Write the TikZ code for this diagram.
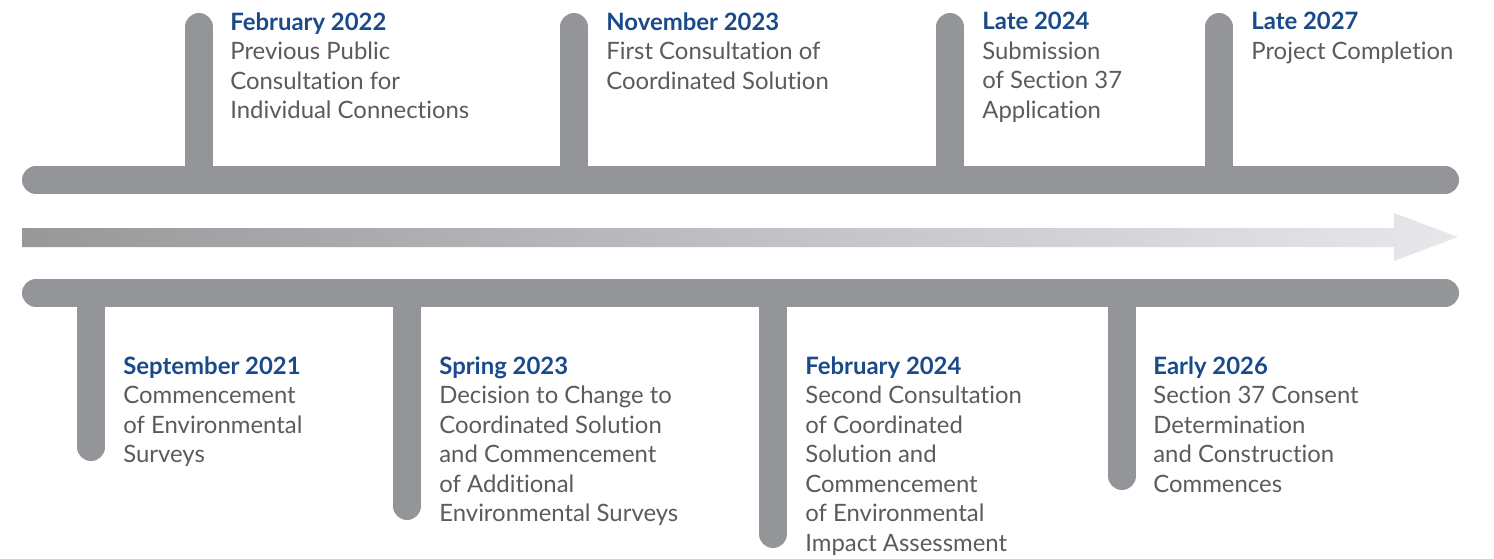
\documentclass[tikz,border=0pt]{standalone}
\usepackage{fontspec}
\setmainfont{Lato}[Ligatures=CommonOff]
\definecolor{bargray}{HTML}{939598}
\definecolor{txtgray}{HTML}{5A5B5D}
\definecolor{dateblue}{HTML}{1A4A8A}
\definecolor{arrowdark}{HTML}{9A979B}
\definecolor{arrowlight}{HTML}{E8E7EC}
\newcommand{\when}[1]{\textcolor{dateblue}{\bfseries #1}}

\begin{document}
\begin{tikzpicture}[x=0.02cm, y=-0.02cm,
    bar/.style={line width=0.56cm, line cap=round, bargray},
    stem/.style={line width=0.56cm, line cap=round, bargray},
    milestone/.style={anchor=north west, align=left, inner sep=0pt, text=txtgray,
        font=\fontsize{13.6}{16.8}\selectfont}]
    \useasboundingbox (0,0) rectangle (1494,558);
    % the two rails
    \coordinate (topL) at (36,180);
    \coordinate (topR) at (1445,180);
    \coordinate (botL) at (36,293);
    \coordinate (botR) at (1445,293);
    % stems above
    \coordinate (s1) at (199,27);  \coordinate (r1) at (199,180);
    \coordinate (s3) at (574,27);  \coordinate (r3) at (574,180);
    \coordinate (s5) at (950,27);  \coordinate (r5) at (950,180);
    \coordinate (s7) at (1219,27); \coordinate (r7) at (1219,180);
    \draw[stem] (r1) -- (s1);
    \draw[stem] (r3) -- (s3);
    \draw[stem] (r5) -- (s5);
    \draw[stem] (r7) -- (s7);
    % stems below
    \coordinate (s0) at (91,447);   \coordinate (r0) at (91,293);
    \coordinate (s2) at (407,506);  \coordinate (r2) at (407,293);
    \coordinate (s4) at (773,534);  \coordinate (r4) at (773,293);
    \coordinate (s6) at (1122,476); \coordinate (r6) at (1122,293);
    \draw[stem] (r0) -- (s0);
    \draw[stem] (r2) -- (s2);
    \draw[stem] (r4) -- (s4);
    \draw[stem] (r6) -- (s6);
    \draw[bar] (topL) -- (topR);
    \draw[bar] (botL) -- (botR);
    % time arrow
    \shade[left color=arrowdark, right color=arrowlight]
        (22,228) -- (1394,228) -- (1394,213) -- (1458,237) -- (1394,261)
        -- (1394,247) -- (22,247) -- cycle;
    % labels above
    \node[milestone] (feb22) at (230,12) {\when{February 2022}\\Previous Public\\Consultation for\\Individual Connections};
    \node[milestone] (nov23) at (606,12) {\when{November 2023}\\First Consultation of\\Coordinated Solution};
    \node[milestone] (late24) at (982,12) {\when{Late 2024}\\Submission\\of Section 37\\Application};
    \node[milestone] (late27) at (1251,12) {\when{Late 2027}\\Project Completion};
    % labels below
    \node[milestone] (sep21) at (123,356) {\when{September 2021}\\Commencement\\of Environmental\\Surveys};
    \node[milestone] (spr23) at (439,356) {\when{Spring 2023}\\Decision to Change to\\Coordinated Solution\\and Commencement\\of Additional\\Environmental Surveys};
    \node[milestone] (feb24) at (805,356) {\when{February 2024}\\Second Consultation\\of Coordinated\\Solution and\\Commencement\\of Environmental\\Impact Assessment};
    \node[milestone] (ear26) at (1153,356) {\when{Early 2026}\\Section 37 Consent\\Determination\\and Construction\\Commences};
\end{tikzpicture}
\end{document}
